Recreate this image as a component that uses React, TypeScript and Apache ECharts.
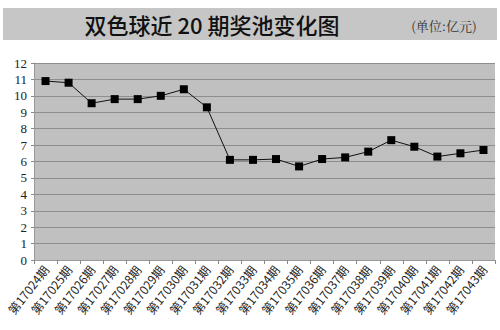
import React, { useEffect, useRef } from "react";
import * as echarts from "echarts";

const periods = [
  "第17024期", "第17025期", "第17026期", "第17027期", "第17028期",
  "第17029期", "第17030期", "第17031期", "第17032期", "第17033期",
  "第17034期", "第17035期", "第17036期", "第17037期", "第17038期",
  "第17039期", "第17040期", "第17041期", "第17042期", "第17043期",
];
const jackpot = [
  10.9, 10.8, 9.55, 9.8, 9.8, 10.0, 10.4, 9.3, 6.1, 6.1,
  6.15, 5.7, 6.15, 6.25, 6.6, 7.3, 6.9, 6.3, 6.5, 6.7,
];
const titleText = "双色球近 20 期奖池变化图";
const unitText = "(单位:亿元)";

export default function App() {
  const ref = useRef<HTMLDivElement>(null);
  useEffect(() => {
    if (!ref.current) return;
    const chart = echarts.init(ref.current, null, { renderer: "svg" });
    chart.setOption({
      animation: false,
      backgroundColor: "#ffffff",
      graphic: [
        {
          type: "rect",
          shape: { x: 3, y: 8, width: 494, height: 32 },
          style: { fill: "#c6c6c6" },
          z: 0,
        },
        {
          type: "text",
          x: 212,
          y: 24,
          style: {
            text: titleText,
            fill: "#111",
            font: "500 22px 'Noto Sans CJK SC', sans-serif",
            align: "center",
            verticalAlign: "middle",
          },
          z: 1,
        },
        {
          type: "text",
          x: 444,
          y: 25,
          style: {
            text: unitText,
            fill: "#333",
            font: "13px 'Noto Serif CJK SC', 'Noto Sans CJK SC', serif",
            align: "center",
            verticalAlign: "middle",
          },
          z: 1,
        },
      ],
      grid: {
        left: 34,
        right: 5,
        top: 63,
        bottom: 70,
        show: true,
        backgroundColor: "#c0c0c0",
        borderWidth: 0,
        containLabel: false,
        outerBoundsMode: "none",
      },
      xAxis: {
        type: "category",
        data: periods,
        boundaryGap: true,
        axisLine: { show: true, lineStyle: { color: "#9a9a9a", width: 1 } },
        axisTick: { show: true, length: 4, lineStyle: { color: "#888" } },
        axisLabel: {
          rotate: 52,
          interval: 0,
          fontSize: 12,
          color: "#222",
          fontFamily: "'Liberation Sans Narrow', 'Noto Sans CJK SC', sans-serif",
          margin: 7,
        },
        splitLine: { show: false },
      },
      yAxis: {
        type: "value",
        min: 0,
        max: 12,
        interval: 1,
        axisLine: { show: true, lineStyle: { color: "#9a9a9a" } },
        axisTick: { show: true, length: 3, lineStyle: { color: "#888" } },
        axisLabel: {
          fontSize: 13,
          color: "#222",
          fontFamily: "'Liberation Serif', 'DejaVu Serif', serif",
          margin: 7,
        },
        splitLine: { show: true, lineStyle: { color: "#8e8e8e", width: 1 } },
      },
      series: [
        {
          type: "line",
          data: jackpot,
          symbol: "rect",
          symbolSize: 8,
          itemStyle: { color: "#000" },
          lineStyle: { color: "#111", width: 1 },
        },
      ],
    });
    return () => chart.dispose();
  }, []);
  return <div ref={ref} style={{ width: 500, height: 330, position: "absolute", left: 0, top: 0 }} />;
}
